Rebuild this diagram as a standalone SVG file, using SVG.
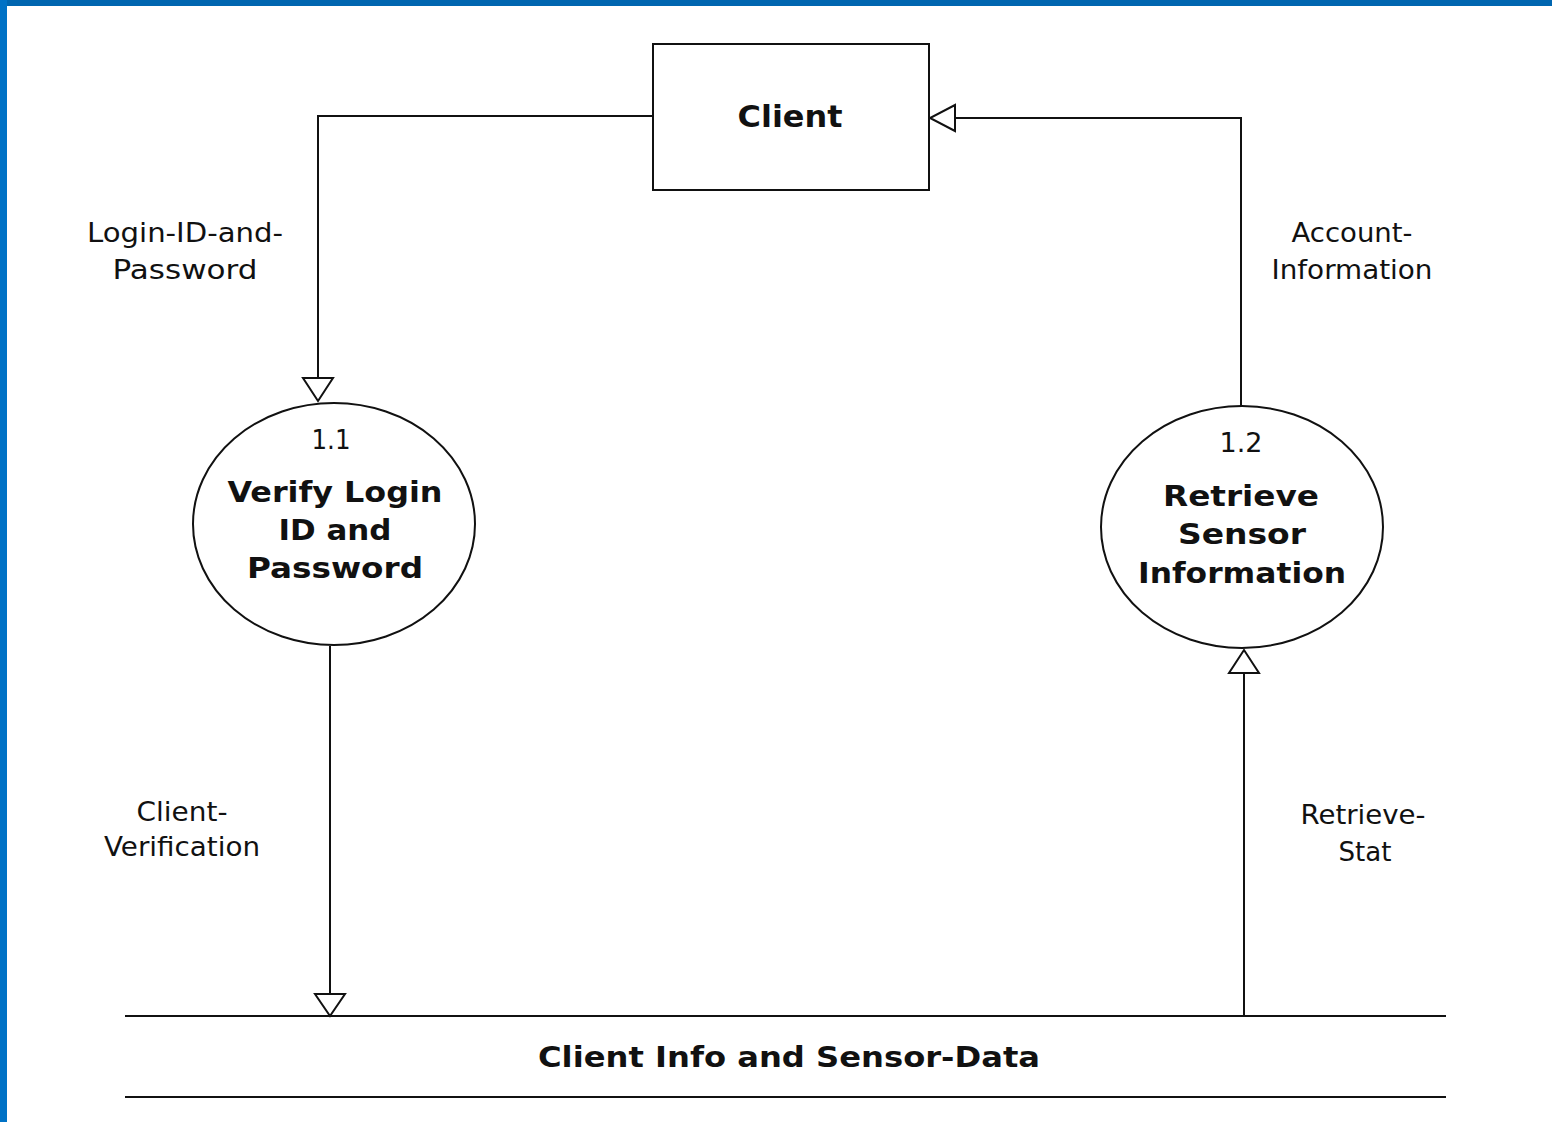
<svg xmlns="http://www.w3.org/2000/svg" width="1552" height="1122" viewBox="0 0 1552 1122">
<style>
.ln{fill:none;stroke:#111;stroke-width:2}
.shape{fill:#fff;stroke:#111;stroke-width:2}
.lbl{font-family:"DejaVu Sans",sans-serif;font-size:27px;fill:#111;text-anchor:middle}
.bold{font-family:"DejaVu Sans",sans-serif;font-weight:bold;font-size:28px;fill:#111;text-anchor:middle}
.head{fill:#fff;stroke:#111;stroke-width:2}
</style>
<rect x="0" y="0" width="1552" height="1122" fill="#fff"/>
<rect x="0" y="0" width="1552" height="6" fill="#0066b0"/>
<rect x="0" y="0" width="7" height="1122" fill="#0072c6"/>
<g id="connectors">
<polyline class="ln" points="653,116 318,116 318,378"/>
<polygon class="head" points="303,378 333,378 318,401"/>
<polyline class="ln" points="1241,406 1241,118 955,118"/>
<polygon class="head" points="955,105 955,131 930,118"/>
<line class="ln" x1="330" y1="646" x2="330" y2="994"/>
<polygon class="head" points="315,994 345,994 330,1016"/>
<line class="ln" x1="1244" y1="1016" x2="1244" y2="673"/>
<polygon class="head" points="1229,673 1259,673 1244,650"/>
<text class="lbl" x="185" y="242" textLength="196" lengthAdjust="spacingAndGlyphs">Login-ID-and-</text>
<text class="lbl" x="185" y="279" textLength="145" lengthAdjust="spacingAndGlyphs">Password</text>
<text class="lbl" x="1352" y="242" textLength="121" lengthAdjust="spacingAndGlyphs">Account-</text>
<text class="lbl" x="1352" y="279" textLength="161" lengthAdjust="spacingAndGlyphs">Information</text>
<text class="lbl" x="182" y="821" textLength="91" lengthAdjust="spacingAndGlyphs">Client-</text>
<text class="lbl" x="182" y="856" textLength="156" lengthAdjust="spacingAndGlyphs">Verification</text>
<text class="lbl" x="1363" y="824" textLength="125" lengthAdjust="spacingAndGlyphs">Retrieve-</text>
<text class="lbl" x="1365" y="861" textLength="53" lengthAdjust="spacingAndGlyphs">Stat</text>
</g>
<g id="client">
<rect class="shape" x="653" y="44" width="276" height="146"/>
<text class="bold" x="790" y="127" style="font-size:31px" textLength="105" lengthAdjust="spacingAndGlyphs">Client</text>
</g>
<g id="p11">
<ellipse class="shape" cx="334" cy="524" rx="141" ry="121"/>
<text class="lbl" x="331" y="449" textLength="39" lengthAdjust="spacingAndGlyphs">1.1</text>
<text class="bold" x="335" y="502" textLength="215" lengthAdjust="spacingAndGlyphs">Verify Login</text>
<text class="bold" x="335" y="540" textLength="113" lengthAdjust="spacingAndGlyphs">ID and</text>
<text class="bold" x="335" y="578" textLength="176" lengthAdjust="spacingAndGlyphs">Password</text>
</g>
<g id="p12">
<ellipse class="shape" cx="1242" cy="527" rx="141" ry="121"/>
<text class="lbl" x="1241" y="452" textLength="43" lengthAdjust="spacingAndGlyphs">1.2</text>
<text class="bold" x="1241" y="506" textLength="156" lengthAdjust="spacingAndGlyphs">Retrieve</text>
<text class="bold" x="1242" y="544" textLength="128" lengthAdjust="spacingAndGlyphs">Sensor</text>
<text class="bold" x="1242" y="583" textLength="208" lengthAdjust="spacingAndGlyphs">Information</text>
</g>
<g id="store">
<line class="ln" x1="125" y1="1016" x2="1446" y2="1016"/>
<line class="ln" x1="125" y1="1097" x2="1446" y2="1097"/>
<text class="bold" x="789" y="1067" textLength="502" lengthAdjust="spacingAndGlyphs">Client Info and Sensor-Data</text>
</g>
</svg>
